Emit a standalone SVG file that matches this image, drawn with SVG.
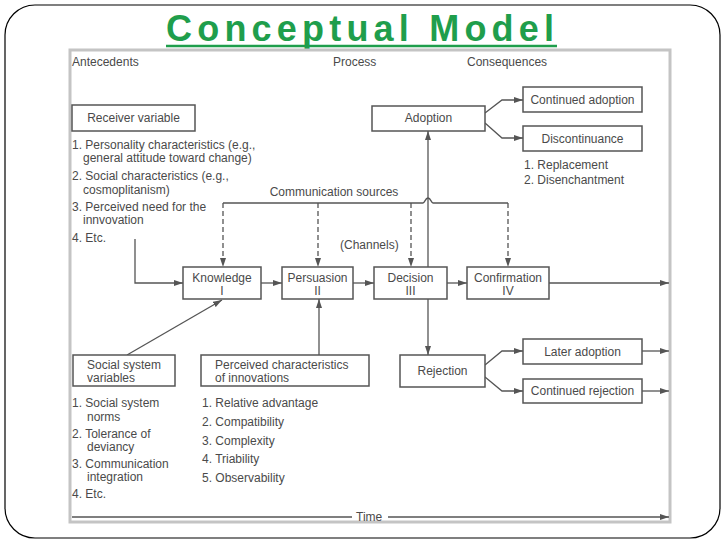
<svg xmlns="http://www.w3.org/2000/svg" width="728" height="546" viewBox="0 0 728 546">
<defs>
<marker id="ah" viewBox="0 0 9 6" refX="9" refY="3" markerWidth="9" markerHeight="6" markerUnits="userSpaceOnUse" orient="auto">
<path d="M0,0 L9,3 L0,6 z" fill="#555"/>
</marker>
<style>
.t{font-family:"Liberation Sans",Arial,sans-serif;font-size:12px;fill:#4a4a4a}
.c{text-anchor:middle}
.box{fill:#fff;stroke:#555;stroke-width:1.5}
.ln{fill:none;stroke:#555;stroke-width:1.3}
.ar{marker-end:url(#ah)}
.dash{stroke-dasharray:5 3}
</style>
</defs>
<rect x="0" y="0" width="728" height="546" fill="#fff"/>
<rect x="5" y="5" width="715" height="533" rx="30" fill="none" stroke="#000" stroke-width="1.2"/>
<g id="title">
<text x="166" y="41" textLength="388" lengthAdjust="spacing" style="font-family:'Liberation Sans',Arial,sans-serif;font-size:36px;font-weight:bold;fill:#1f9e4c">Conceptual Model</text>
<line x1="166" y1="46" x2="557" y2="46" stroke="#1f9e4c" stroke-width="2.5"/>
</g>
<rect x="70" y="50" width="600" height="472" fill="none" stroke="#c4c4c4" stroke-width="3"/>
<g id="headers">
<text class="t" x="72" y="66">Antecedents</text>
<text class="t" x="333" y="66">Process</text>
<text class="t" x="467" y="66">Consequences</text>
</g>
<g id="connectors">
<path class="ln ar" d="M135,239 V283 H183"/>
<path class="ln ar" d="M261,283 H282"/>
<path class="ln ar" d="M353,283 H374"/>
<path class="ln ar" d="M447,283 H467"/>
<path class="ln ar" d="M549,283 H669"/>
<path class="ln ar" d="M127,355 L222,300"/>
<path class="ln ar" d="M319,355 V299"/>
<path class="ln ar" d="M428,267 V131"/>
<path class="ln ar" d="M428,299 V355"/>
<path class="ln ar" d="M485,113 L502,100 H523"/>
<path class="ln ar" d="M485,123 L502,138 H523"/>
<path class="ln ar" d="M485,365 L502,351 H523"/>
<path class="ln ar" d="M485,377 L502,391 H523"/>
<path class="ln ar" d="M642,351 H669"/>
<path class="ln ar" d="M642,391 H669"/>
<path class="ln" d="M223,203 H423 C425,203 425,198 428,198 C431,198 431,203 433,203 H508"/>
<path class="ln ar dash" d="M223,203 V267"/>
<path class="ln ar dash" d="M318,203 V267"/>
<path class="ln ar dash" d="M411,203 V267"/>
<path class="ln ar dash" d="M508,203 V267"/>
<path class="ln" d="M72,517 H352"/>
<path class="ln ar" d="M388,517 H669"/>
</g>
<g id="receiver">
<rect class="box" x="72" y="105" width="123" height="26"/>
<text class="t c" x="133.5" y="122">Receiver variable</text>
<text class="t" x="72" y="149">1. Personality characteristics (e.g.,</text>
<text class="t" x="83" y="162">general attitude toward change)</text>
<text class="t" x="72" y="180">2. Social characteristics (e.g.,</text>
<text class="t" x="83" y="194">cosmoplitanism)</text>
<text class="t" x="72" y="211">3. Perceived need for the</text>
<text class="t" x="83" y="224">innvovation</text>
<text class="t" x="72" y="242">4. Etc.</text>
</g>
<g id="comm">
<text class="t c" x="334" y="196">Communication sources</text>
<text class="t" x="340" y="249">(Channels)</text>
</g>
<g id="knowledge">
<rect class="box" x="183" y="267" width="78" height="32"/>
<text class="t c" x="222" y="282">Knowledge</text>
<text class="t c" x="222" y="295">I</text>
</g>
<g id="persuasion">
<rect class="box" x="282" y="267" width="71" height="32"/>
<text class="t c" x="317.5" y="282">Persuasion</text>
<text class="t c" x="317.5" y="295">II</text>
</g>
<g id="decision">
<rect class="box" x="374" y="267" width="73" height="32"/>
<text class="t c" x="410.5" y="282">Decision</text>
<text class="t c" x="410.5" y="295">III</text>
</g>
<g id="confirmation">
<rect class="box" x="467" y="267" width="82" height="32"/>
<text class="t c" x="508" y="282">Confirmation</text>
<text class="t c" x="508" y="295">IV</text>
</g>
<g id="adoption">
<rect class="box" x="372" y="106" width="113" height="25"/>
<text class="t c" x="428.5" y="122">Adoption</text>
</g>
<g id="continued-adoption">
<rect class="box" x="523" y="87" width="119" height="25"/>
<text class="t c" x="582.5" y="104">Continued adoption</text>
</g>
<g id="discontinuance">
<rect class="box" x="523" y="126" width="119" height="25"/>
<text class="t c" x="582.5" y="143">Discontinuance</text>
<text class="t" x="524" y="169">1. Replacement</text>
<text class="t" x="524" y="184">2. Disenchantment</text>
</g>
<g id="rejection">
<rect class="box" x="400" y="355" width="85" height="32"/>
<text class="t c" x="442.5" y="375">Rejection</text>
</g>
<g id="later-adoption">
<rect class="box" x="523" y="339" width="119" height="25"/>
<text class="t c" x="582.5" y="356">Later adoption</text>
</g>
<g id="continued-rejection">
<rect class="box" x="523" y="379" width="119" height="24"/>
<text class="t c" x="582.5" y="395">Continued rejection</text>
</g>
<g id="social">
<rect class="box" x="73" y="355" width="102" height="31"/>
<text class="t" x="87" y="369">Social system</text>
<text class="t" x="87" y="382">variables</text>
<text class="t" x="72" y="407">1. Social system</text>
<text class="t" x="87" y="421">norms</text>
<text class="t" x="72" y="438">2. Tolerance of</text>
<text class="t" x="87" y="451">deviancy</text>
<text class="t" x="72" y="468">3. Communication</text>
<text class="t" x="87" y="481">integration</text>
<text class="t" x="72" y="498">4. Etc.</text>
</g>
<g id="perceived">
<rect class="box" x="201" y="355" width="168" height="31"/>
<text class="t" x="215" y="369">Perceived characteristics</text>
<text class="t" x="215" y="382">of innovations</text>
<text class="t" x="202" y="407">1. Relative advantage</text>
<text class="t" x="202" y="426">2. Compatibility</text>
<text class="t" x="202" y="445">3. Complexity</text>
<text class="t" x="202" y="463">4. Triability</text>
<text class="t" x="202" y="482">5. Observability</text>
</g>
<g id="time">
<text class="t" x="356" y="521">Time</text>
</g>
</svg>
